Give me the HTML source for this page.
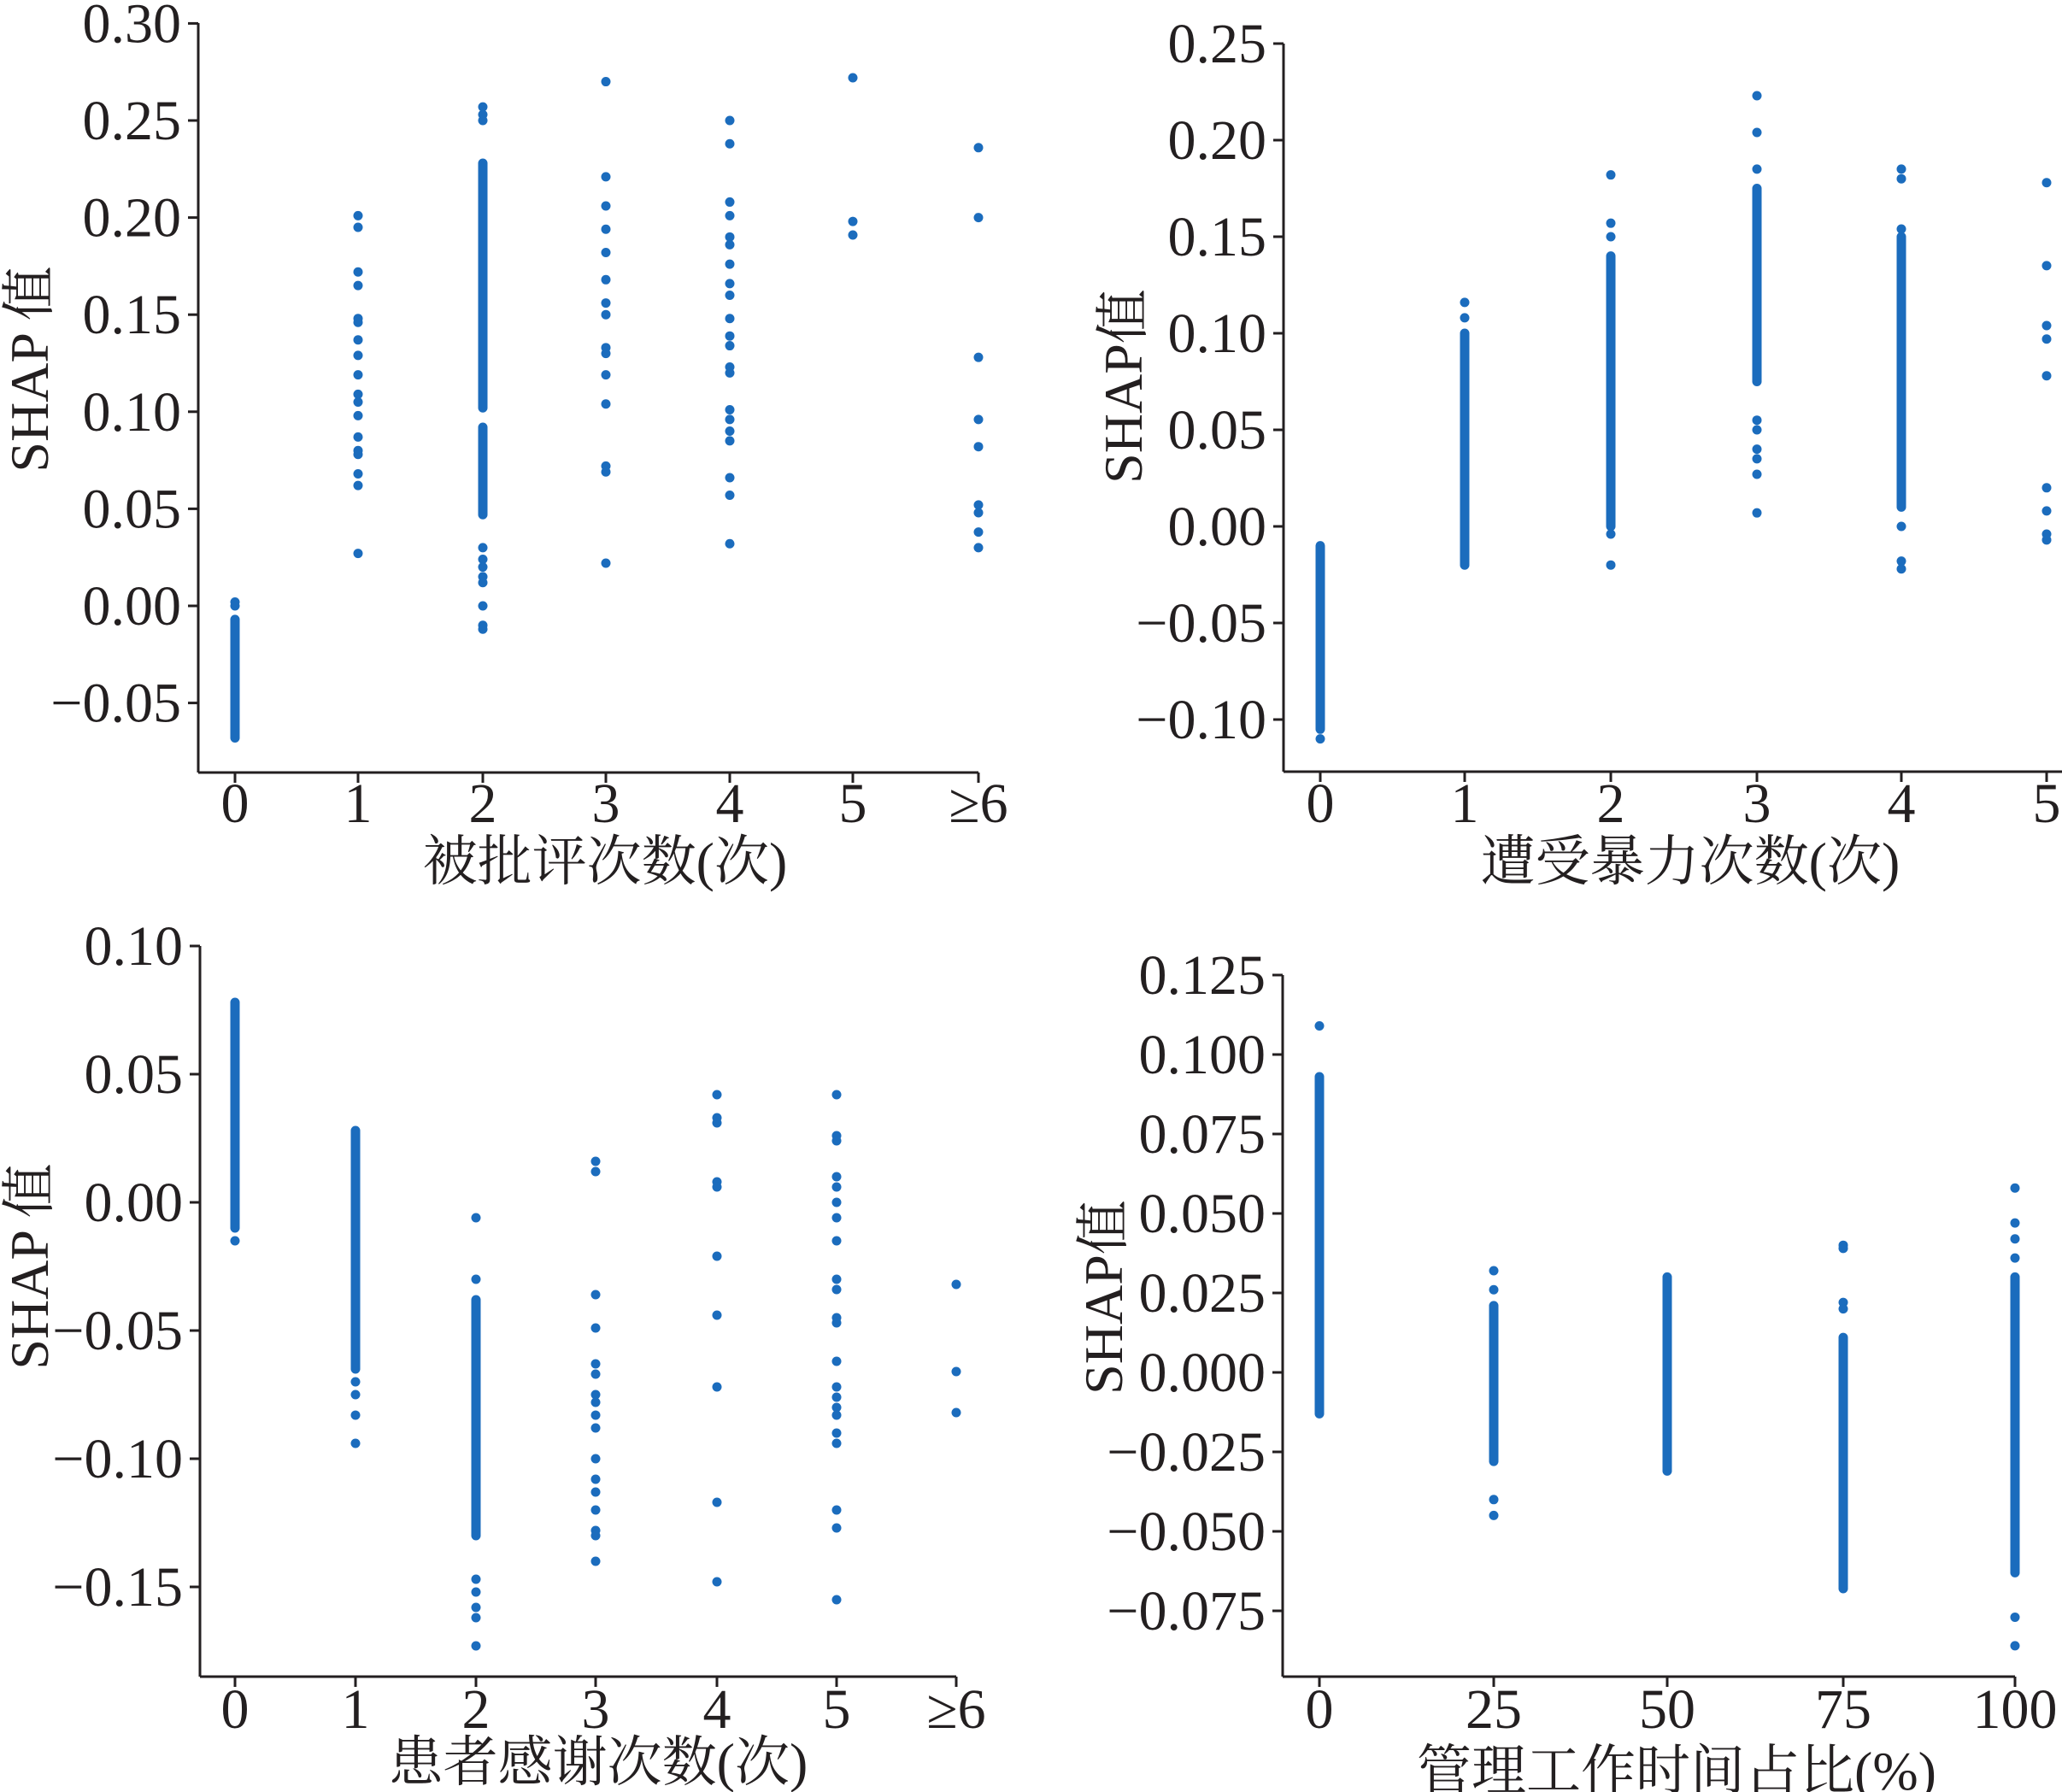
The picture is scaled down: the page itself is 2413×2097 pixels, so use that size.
<!DOCTYPE html>
<html><head><meta charset="utf-8"><style>
html,body{margin:0;padding:0;background:#fff;}
svg{display:block;}
text{font-family:"Liberation Serif","Noto Serif CJK SC",serif;fill:#231f20;}
</style></head><body>
<svg id="s" width="2413" height="2097" viewBox="0 0 2413 2097" xmlns="http://www.w3.org/2000/svg">
<g id="g"></g>
<text x="708" y="1030" font-size="64" text-anchor="middle">被批评次数(次)</text>
<text x="1978" y="1030" font-size="64" text-anchor="middle">遭受暴力次数(次)</text>
<text x="700" y="2084" font-size="64" text-anchor="middle">患者感谢次数(次)</text>
<text x="1962" y="2094" font-size="64" text-anchor="middle">管理工作时间占比(%)</text>
<text transform="translate(56,432) rotate(-90)" font-size="64" text-anchor="middle">SHAP 值</text>
<text transform="translate(1336,452) rotate(-90)" font-size="64" text-anchor="middle">SHAP值</text>
<text transform="translate(56,1482) rotate(-90)" font-size="64" text-anchor="middle">SHAP 值</text>
<text transform="translate(1313,1518) rotate(-90)" font-size="64" text-anchor="middle">SHAP值</text>
</svg>
<script>
var NS="http://www.w3.org/2000/svg",G=document.getElementById("g");
function el(t,a,txt){var e=document.createElementNS(NS,t);for(var k in a)e.setAttribute(k,a[k]);if(txt!=null)e.textContent=txt;G.appendChild(e);return e;}
var C="#1b6cbd";
function panel(p){
  var py=function(v){return p.y0-v*p.sc;};
  el("line",{x1:p.ax,y1:p.top,x2:p.ax,y2:p.bot,stroke:"#231f20","stroke-width":3});
  el("line",{x1:p.ax,y1:p.bot,x2:p.xr,y2:p.bot,stroke:"#231f20","stroke-width":3});
  p.yt.forEach(function(v){var y=py(v);
    el("line",{x1:p.ax-12,y1:y,x2:p.ax,y2:y,stroke:"#231f20","stroke-width":3});
    var s=v.toFixed(p.dec);if(v<0)s="\u2212"+s.slice(1);
    el("text",{x:p.ax-20,y:y+22,"font-size":66,"text-anchor":"end"},s);});
  p.xt.forEach(function(x,i){
    el("line",{x1:x,y1:p.bot,x2:x,y2:p.bot+12,stroke:"#231f20","stroke-width":3});
    el("text",{x:x,y:p.xly,"font-size":66,"text-anchor":"middle"},p.xl[i]);});
  p.d.forEach(function(col,i){var x=p.xt[i];
    (col.s||[]).forEach(function(sg){el("line",{x1:x,y1:py(sg[0]),x2:x,y2:py(sg[1]),stroke:C,"stroke-width":11,"stroke-linecap":"round"});});
    (col.p||[]).forEach(function(v){el("circle",{cx:x,cy:py(v),r:5.5,fill:C});});});
}
panel({ax:232,top:27,bot:904,xr:1145,y0:709,sc:2272,dec:2,yt:[0.30,0.25,0.20,0.15,0.10,0.05,0,-0.05],
 xt:[275,419,565,709,854,998,1145],xl:["0","1","2","3","4","5","≥6"],xly:962,
 d:[{s:[[-0.068,-0.007]],p:[0.002,0.0]},
 {p:[0.201,0.195,0.172,0.165,0.148,0.146,0.137,0.129,0.119,0.109,0.105,0.098,0.087,0.08,0.078,0.068,0.062,0.027]},
 {s:[[0.102,0.228],[0.047,0.092]],p:[0.257,0.253,0.25,0.03,0.024,0.02,0.015,0.012,0.0,-0.01,-0.012]},
 {p:[0.27,0.221,0.206,0.194,0.182,0.168,0.156,0.15,0.133,0.13,0.119,0.104,0.072,0.069,0.022]},
 {p:[0.25,0.238,0.208,0.201,0.19,0.186,0.176,0.166,0.16,0.148,0.139,0.134,0.123,0.12,0.101,0.096,0.09,0.085,0.066,0.057,0.032]},
 {p:[0.272,0.198,0.191]},
 {p:[0.236,0.2,0.128,0.096,0.082,0.052,0.048,0.038,0.03]}]});
panel({ax:1502,top:51,bot:903,xr:2413,y0:616,sc:2260,dec:2,yt:[0.25,0.20,0.15,0.10,0.05,0,-0.05,-0.10],
 xt:[1545,1714,1885,2056,2225,2395],xl:["0","1","2","3","4","5"],xly:962,
 d:[{s:[[-0.105,-0.01]],p:[-0.11]},
 {s:[[-0.02,0.1]],p:[0.116,0.108]},
 {s:[[0.0,0.14]],p:[0.182,0.157,0.15,-0.004,-0.02]},
 {s:[[0.075,0.175]],p:[0.223,0.204,0.185,0.055,0.05,0.04,0.035,0.027,0.007]},
 {s:[[0.01,0.15]],p:[0.185,0.18,0.154,0.0,-0.018,-0.022]},
 {p:[0.178,0.135,0.104,0.097,0.078,0.02,0.008,-0.004,-0.007]}]});
panel({ax:234,top:1107,bot:1962,xr:1119,y0:1407,sc:3000,dec:2,yt:[0.10,0.05,0,-0.05,-0.10,-0.15],
 xt:[275,416,557,697,839,979,1119],xl:["0","1","2","3","4","5","≥6"],xly:2022,
 d:[{s:[[-0.01,0.078]],p:[-0.015]},
 {s:[[-0.065,0.028]],p:[-0.07,-0.075,-0.083,-0.094]},
 {s:[[-0.038,-0.13]],p:[-0.006,-0.03,-0.147,-0.152,-0.158,-0.162,-0.173]},
 {p:[0.016,0.012,-0.036,-0.049,-0.063,-0.067,-0.075,-0.078,-0.083,-0.088,-0.1,-0.108,-0.113,-0.12,-0.128,-0.13,-0.14]},
 {p:[0.042,0.033,0.031,0.008,0.006,-0.021,-0.044,-0.072,-0.117,-0.148]},
 {p:[0.042,0.026,0.024,0.01,0.006,0.0,-0.006,-0.015,-0.03,-0.034,-0.045,-0.047,-0.062,-0.072,-0.076,-0.08,-0.083,-0.09,-0.094,-0.12,-0.127,-0.155]},
 {p:[-0.032,-0.066,-0.082]}]});
panel({ax:1501,top:1141,bot:1962,xr:2358,y0:1606,sc:3720,dec:3,yt:[0.125,0.100,0.075,0.050,0.025,0,-0.025,-0.050,-0.075],
 xt:[1544,1748,1951,2157,2358],xl:["0","25","50","75","100"],xly:2022,
 d:[{s:[[-0.013,0.093]],p:[0.109]},
 {s:[[-0.028,0.021]],p:[0.032,0.026,-0.04,-0.045]},
 {s:[[-0.031,0.03]]},
 {s:[[-0.068,0.011]],p:[0.04,0.039,0.022,0.02]},
 {s:[[-0.063,0.03]],p:[0.058,0.047,0.042,0.036,-0.077,-0.086]}]});
</script>
</body></html>
